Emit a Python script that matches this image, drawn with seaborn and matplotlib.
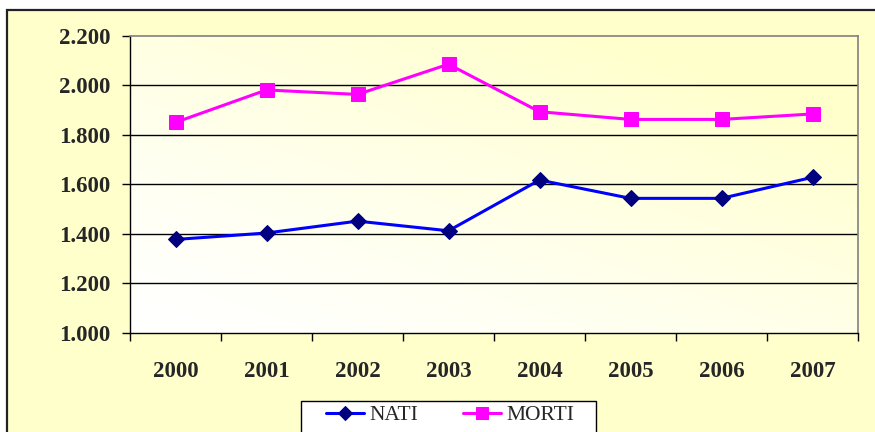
import numpy as np
import pandas as pd
import seaborn as sns
import matplotlib.pyplot as plt
from matplotlib.patches import Rectangle
from matplotlib.ticker import FuncFormatter

anni = [2000, 2001, 2002, 2003, 2004, 2005, 2006, 2007]
nati = [1378, 1404, 1452, 1413, 1618, 1544, 1544, 1629]
morti = [1851, 1982, 1964, 2086, 1894, 1863, 1863, 1885]
y_ticks = [1000, 1200, 1400, 1600, 1800, 2000, 2200]

df = pd.DataFrame({'anno': anni, 'NATI': nati, 'MORTI': morti})

sns.set_style('white')
plt.rcParams['font.family'] = ['Liberation Serif', 'DejaVu Serif']

W, H = 875, 432
fig = plt.figure(figsize=(W / 100, H / 100), dpi=100, facecolor='white')

# outer chart frame (light yellow, clipped on right and bottom)
fig.add_artist(Rectangle((7 / W, -0.2), 1.2, 1 - 10 / H + 0.2, transform=fig.transFigure,
                         facecolor='#FFFFCC', edgecolor='#222222', linewidth=1.6, zorder=0))

ax = fig.add_axes([130 / W, 1 - 333 / H, 728 / W, 297 / H])
ax.set_facecolor('none')

# gradient plot area: white at bottom left to pale yellow at top right
gx, gy = np.meshgrid(np.linspace(0, 1, 200), np.linspace(0, 1, 200))
t = np.clip((gx * 0.6 + gy * 0.7) / 1.1, 0, 1) ** 1.3
grad = np.ones((200, 200, 3))
grad[..., 2] = 1 - t * (1 - 0.80)
ax.imshow(grad, extent=[0, 1, 0, 1], transform=ax.transAxes, origin='lower',
          aspect='auto', zorder=0)

for v in y_ticks[1:-1]:
    ax.axhline(v, color='black', linewidth=1.0, zorder=1)

sns.lineplot(data=df, x='anno', y='NATI', color='#0000FF', linewidth=2.2,
             marker='D', markersize=8.5, markerfacecolor='#000080',
             markeredgecolor='#000080', label='NATI', legend=False, ax=ax, zorder=3)
sns.lineplot(data=df, x='anno', y='MORTI', color='#FF00FF', linewidth=2.2,
             marker='s', markersize=9.5, markerfacecolor='#FF00FF',
             markeredgecolor='#FF00FF', label='MORTI', legend=False, ax=ax, zorder=3)

ax.set_xlim(anni[0] - 0.5, anni[-1] + 0.5)
ax.set_ylim(y_ticks[0], y_ticks[-1])
ax.set_xlabel('')
ax.set_ylabel('')

ax.set_yticks(y_ticks)
ax.yaxis.set_major_formatter(FuncFormatter(lambda v, p: f'{int(v):,}'.replace(',', '.')))
ax.tick_params(axis='y', direction='out', length=5.8, width=1, color='black', pad=8.5,
               labelsize=16.5, left=True)
for lab in ax.get_yticklabels():
    lab.set_fontweight('bold')

ax.set_xticks(np.arange(anni[0] - 0.5, anni[-1] + 1, 1))
ax.set_xticklabels([])
ax.set_xticks(anni, labels=[str(a) for a in anni], minor=True)
ax.tick_params(axis='x', which='major', direction='out', length=5.4, width=1, color='black', bottom=True)
ax.tick_params(axis='x', which='minor', length=0, pad=20, labelsize=16.5)
for lab in ax.get_xticklabels(minor=True):
    lab.set_fontweight('bold')

for side in ['left', 'bottom']:
    ax.spines[side].set_color('black')
    ax.spines[side].set_linewidth(1.0)
for side in ['top', 'right']:
    ax.spines[side].set_visible(True)
    ax.spines[side].set_color('#808080')
    ax.spines[side].set_linewidth(1.2)

# legend box (clipped at bottom)
fig.add_artist(Rectangle((301 / W, -0.1), 295 / W, 1 - 401 / H + 0.1, transform=fig.transFigure,
                         facecolor='white', edgecolor='black', linewidth=1.0, zorder=4))
leg = fig.legend(loc='center left', bbox_to_anchor=(326 / W, 1 - 415 / H), ncol=2,
                 frameon=False, fontsize=15.5, handlelength=1.75, handletextpad=0.25,
                 columnspacing=2.1, borderpad=0, borderaxespad=0, markerscale=0.85)
leg.set_zorder(5)

fig.savefig('out.png', dpi=100, facecolor='white')
